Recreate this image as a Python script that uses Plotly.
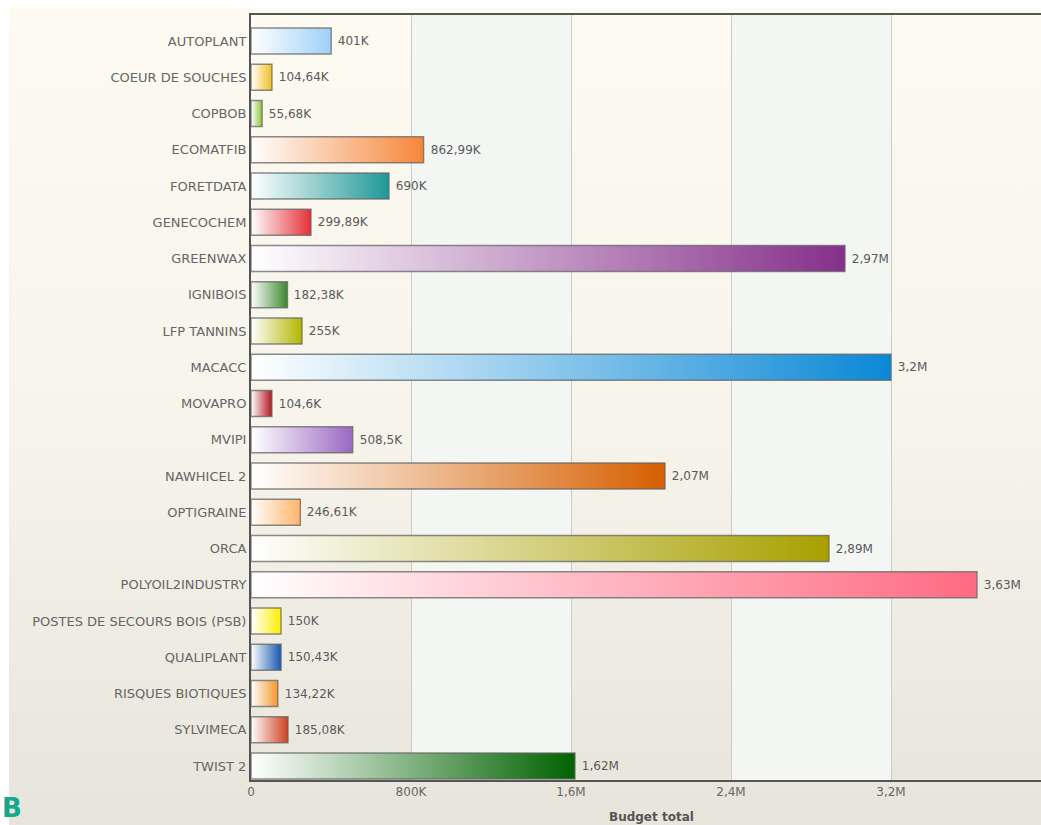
import base64
import plotly.graph_objects as go

categories = [
    "AUTOPLANT", "COEUR DE SOUCHES", "COPBOB", "ECOMATFIB", "FORETDATA",
    "GENECOCHEM", "GREENWAX", "IGNIBOIS", "LFP TANNINS", "MACACC",
    "MOVAPRO", "MVIPI", "NAWHICEL 2", "OPTIGRAINE", "ORCA",
    "POLYOIL2INDUSTRY", "POSTES DE SECOURS BOIS (PSB)", "QUALIPLANT",
    "RISQUES BIOTIQUES", "SYLVIMECA", "TWIST 2",
]
values = [
    401000, 104640, 55680, 862990, 690000,
    299890, 2970000, 182380, 255000, 3200000,
    104600, 508500, 2070000, 246610, 2890000,
    3630000, 150000, 150430, 134220, 185080, 1620000,
]
value_labels = [
    "401K", "104,64K", "55,68K", "862,99K", "690K",
    "299,89K", "2,97M", "182,38K", "255K", "3,2M",
    "104,6K", "508,5K", "2,07M", "246,61K", "2,89M",
    "3,63M", "150K", "150,43K", "134,22K", "185,08K", "1,62M",
]
bar_colors = [
    "#9fd0f7", "#f0c020", "#8cc43c", "#f5863a", "#1f9896",
    "#e6303a", "#85308a", "#3a8a2c", "#b3b600", "#0a88d6",
    "#b4141e", "#9a68c2", "#d65f00", "#ffb46a", "#a8a000",
    "#ff6a82", "#ffee00", "#1a58b0", "#f5982e", "#d0401e", "#006200",
]
x_tickvals = [0, 800000, 1600000, 2400000, 3200000]
x_ticktext = ["0", "800K", "1,6M", "2,4M", "3,2M"]
axis_title = "Budget total"

W, H = 1041, 825
PL, PT, PB = 251, 15, 780
px_per_unit = 160 / 800000
x_max = (W - PL) / px_per_unit
half = 0.36
n = len(categories)
idx = list(range(n))

fig = go.Figure()

# bar trace carrying the value labels
fig.add_trace(go.Bar(
    x=values, y=idx, orientation="h", width=2 * half,
    marker=dict(color="rgba(0,0,0,0)", line=dict(width=0)),
    text=["\u00a0" + t for t in value_labels], textposition="outside",
    cliponaxis=False,
    textfont=dict(family="DejaVu Sans", size=12, color="#5a5a5a"),
    hoverinfo="skip", showlegend=False,
))

# gradient-filled bars built from the same values
for i, (v, c, cat) in enumerate(zip(values, bar_colors, categories)):
    fig.add_trace(go.Scatter(
        x=[0, v, v, 0, 0],
        y=[i - half, i - half, i + half, i + half, i - half],
        mode="lines", fill="toself",
        fillgradient=dict(type="horizontal",
                          colorscale=[[0, "#ffffff"], [1, c]]),
        line=dict(color="rgba(100,100,100,0.75)", width=1.4),
        hoverinfo="text", hovertext=f"{cat}: {value_labels[i]}",
        showlegend=False,
    ))

# alternating background bands between grid lines
shapes = []
for k in range(1, len(x_tickvals) - 1, 2):
    shapes.append(dict(
        type="rect", xref="x", yref="y domain",
        x0=x_tickvals[k], x1=x_tickvals[k + 1], y0=0, y1=1,
        fillcolor="#f3f6f3", line=dict(width=0), layer="below",
    ))

svg = (
    f'<svg xmlns="http://www.w3.org/2000/svg" width="{W}" height="{H}">'
    '<defs><linearGradient id="g" x1="0" y1="0" x2="0" y2="1">'
    '<stop offset="0" stop-color="#fdfaf2"/>'
    '<stop offset="0.5" stop-color="#f6f4eb"/>'
    '<stop offset="1" stop-color="#e7e5db"/>'
    '</linearGradient></defs>'
    f'<rect x="9" y="8" width="{W - 9}" height="{H - 8}" fill="url(#g)"/>'
    '</svg>'
)
bg_src = "data:image/svg+xml;base64," + base64.b64encode(svg.encode()).decode()

# category spacing in pixels and extra padding at the top / bottom
row_px = 36.25
y_top = -(41 - PT) / row_px
y_bottom = (n - 1) + (PB - 766) / row_px

fig.update_layout(
    width=W, height=H,
    margin=dict(l=0, r=0, t=0, b=0, pad=0),
    paper_bgcolor="#ffffff", plot_bgcolor="#ffffff",
    showlegend=False, bargap=0,
    font=dict(family="DejaVu Sans", color="#666666"),
    shapes=shapes,
    images=[dict(source=bg_src, xref="paper", yref="paper", x=0, y=1,
                 sizex=1, sizey=1, sizing="stretch", layer="below",
                 xanchor="left", yanchor="top")],
    xaxis=dict(
        domain=[PL / W, 1], range=[0, x_max], automargin=False,
        tickvals=x_tickvals, ticktext=x_ticktext,
        tickfont=dict(size=12, color="#666666"),
        showgrid=True, gridcolor="#c9cccb", gridwidth=1,
        zeroline=False, showline=True, mirror=True,
        linecolor="#555555", linewidth=2, ticks="",
    ),
    yaxis=dict(
        domain=[(H - PB) / H, (H - PT) / H], range=[y_bottom, y_top],
        automargin=False, tickvals=idx, ticktext=categories,
        tickfont=dict(size=13, color="#666666"),
        showgrid=False, zeroline=False, showline=True,
        linecolor="#555555", linewidth=2, ticks="",
    ),
    annotations=[
        dict(text=f"<b>{axis_title}</b>", xref="paper", yref="paper",
             x=651 / W, y=(H - 817) / H, xanchor="center", yanchor="middle",
             showarrow=False,
             font=dict(size=12, color="#555555")),
        dict(text="<b>B</b>", xref="paper", yref="paper",
             x=0.0, y=0.0, xanchor="left", yanchor="bottom",
             showarrow=False,
             font=dict(family="DejaVu Sans", size=26, color="#14a88c")),
    ],
)

fig.write_html(
    "out.html", config=dict(displayModeBar=False),
    post_script="document.body.style.margin='0';"
                "document.documentElement.style.overflow='hidden';",
)
